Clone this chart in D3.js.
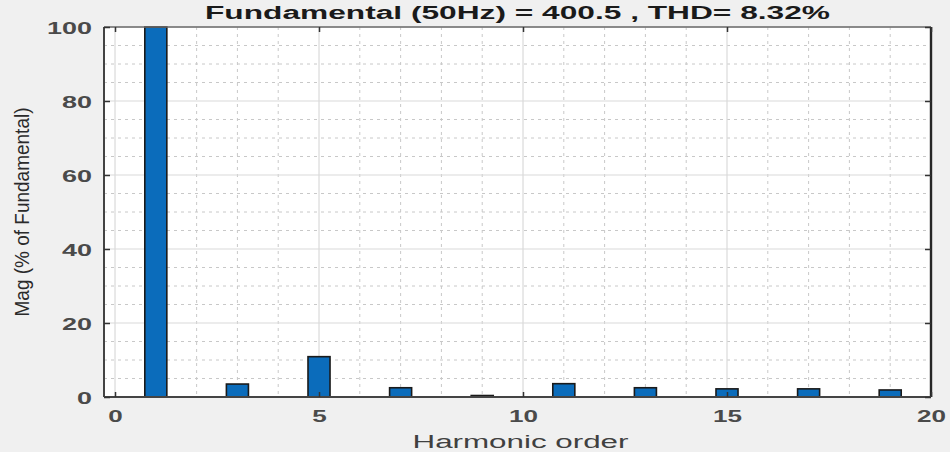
<!DOCTYPE html>
<html>
<head>
<meta charset="utf-8">
<script src="https://cdn.jsdelivr.net/npm/d3@7"></script>
<style>
  html, body { margin: 0; padding: 0; background: #f0f0f0; }
  svg { display: block; }
</style>
</head>
<body>
<svg id="chart" width="950" height="452"></svg>
<script>
// ---- data ----
const harmonicOrders = [1, 3, 5, 7, 9, 11, 13, 15, 17, 19];
const magnitudes = [100, 3.5, 10.9, 2.5, 0.4, 3.6, 2.5, 2.2, 2.2, 1.9];
const xTicks = [0, 5, 10, 15, 20];
const yTicks = [0, 20, 40, 60, 80, 100];
const titleText = "Fundamental (50Hz) = 400.5 , THD= 8.32%";
const xLabelText = "Harmonic order";
const yLabelText = "Mag (% of Fundamental)";

(function () {
// ---- layout ----
const W = 950, H = 452;
const pL = 104, pR = 931, pT = 27, pB = 397;
const svg = d3.select("#chart");

const x = d3.scaleLinear().domain([-0.27, 20]).range([pL, pR]);
const y = d3.scaleLinear().domain([0, 100]).range([pB, pT]);

svg.append("rect").attr("x", 0).attr("y", 0).attr("width", W).attr("height", H).attr("fill", "#f0f0f0");
svg.append("rect").attr("x", pL).attr("y", pT).attr("width", pR - pL).attr("height", pB - pT).attr("fill", "#ffffff");

// minor grid (dotted)
const g = svg.append("g");
const minorX = d3.range(0, 21, 1).filter(v => v % 5 !== 0);
const minorY = d3.range(0, 101, 5).filter(v => v % 20 !== 0);
g.selectAll("line.mx").data(minorX).join("line")
  .attr("x1", d => x(d)).attr("x2", d => x(d)).attr("y1", pT).attr("y2", pB)
  .attr("stroke", "#c8c8c8").attr("stroke-width", 1).attr("stroke-dasharray", "3,4");
g.selectAll("line.my").data(minorY).join("line")
  .attr("x1", pL).attr("x2", pR).attr("y1", d => y(d)).attr("y2", d => y(d))
  .attr("stroke", "#c8c8c8").attr("stroke-width", 1).attr("stroke-dasharray", "3,4");
// major grid
g.selectAll("line.gx").data(xTicks).join("line")
  .attr("x1", d => x(d)).attr("x2", d => x(d)).attr("y1", pT).attr("y2", pB)
  .attr("stroke", "#dadada").attr("stroke-width", 1.2);
g.selectAll("line.gy").data(yTicks).join("line")
  .attr("x1", pL).attr("x2", pR).attr("y1", d => y(d)).attr("y2", d => y(d))
  .attr("stroke", "#dadada").attr("stroke-width", 1.2);

// bars
const barW = x(0.54) - x(0);
svg.append("g").selectAll("rect").data(harmonicOrders).join("rect")
  .attr("x", d => x(d) - barW / 2)
  .attr("y", (d, i) => y(magnitudes[i]))
  .attr("width", barW)
  .attr("height", (d, i) => y(0) - y(magnitudes[i]))
  .attr("fill", "#0b6cbb")
  .attr("stroke", "#1a1a1a")
  .attr("stroke-width", 1.6);

// axes box
svg.append("line").attr("x1", pL).attr("x2", pR).attr("y1", pT).attr("y2", pT)
  .attr("stroke", "#6a6a6a").attr("stroke-width", 1.6);
svg.append("line").attr("x1", pR).attr("x2", pR).attr("y1", pT).attr("y2", pB)
  .attr("stroke", "#262626").attr("stroke-width", 2.4);
svg.append("line").attr("x1", pL).attr("x2", pR).attr("y1", pB).attr("y2", pB)
  .attr("stroke", "#444").attr("stroke-width", 2);
svg.append("line").attr("x1", pL).attr("x2", pL).attr("y1", pT).attr("y2", pB)
  .attr("stroke", "#444").attr("stroke-width", 2);

// axes with ticks (inward)
const xAxis = svg.append("g").attr("transform", `translate(0,${pB})`)
  .call(d3.axisBottom(x).tickValues(xTicks).tickSize(-5).tickPadding(0).tickFormat(d3.format("d")));
const xAxisTop = svg.append("g").attr("transform", `translate(0,${pT})`)
  .call(d3.axisTop(x).tickValues(xTicks).tickSize(-5).tickFormat(""));
const yAxis = svg.append("g").attr("transform", `translate(${pL},0)`)
  .call(d3.axisLeft(y).tickValues(yTicks).tickSize(-6).tickPadding(0).tickFormat(d3.format("d")));
const yAxisR = svg.append("g").attr("transform", `translate(${pR},0)`)
  .call(d3.axisRight(y).tickValues(yTicks).tickSize(-6).tickFormat(""));
[xAxis, xAxisTop, yAxis, yAxisR].forEach(a => {
  a.select(".domain").remove();
  a.selectAll(".tick line").attr("stroke", "#333").attr("stroke-width", 1.5);
});

const tickFont = "'Liberation Sans', Arial, sans-serif";
xAxis.selectAll(".tick text")
  .attr("y", 25).attr("dy", 0)
  .attr("font-family", tickFont).attr("font-size", 17).attr("font-weight", "bold")
  .attr("fill", "#4a4a4a")
  .attr("textLength", d => String(d).length * 14.5).attr("lengthAdjust", "spacingAndGlyphs");
yAxis.selectAll(".tick text")
  .attr("x", -12).attr("dy", "0.36em")
  .attr("font-family", tickFont).attr("font-size", 17).attr("font-weight", "bold")
  .attr("fill", "#4a4a4a")
  .attr("textLength", d => String(d).length * 15).attr("lengthAdjust", "spacingAndGlyphs");

// title
svg.append("text").attr("x", (pL + pR) / 2).attr("y", 18.5)
  .attr("text-anchor", "middle").attr("font-family", tickFont).attr("font-weight", "bold")
  .attr("font-size", 18).attr("fill", "#1a1a1a")
  .attr("textLength", 625).attr("lengthAdjust", "spacingAndGlyphs")
  .text(titleText);

// x label
svg.append("text").attr("x", (pL + pR) / 2 + 3).attr("y", 448)
  .attr("text-anchor", "middle").attr("font-family", tickFont)
  .attr("font-size", 18).attr("fill", "#404040")
  .attr("textLength", 216).attr("lengthAdjust", "spacingAndGlyphs")
  .text(xLabelText);

// y label (glyphs stretched across like the reference)
svg.append("text").attr("transform", `translate(29,212) rotate(-90) scale(1,1.4)`)
  .attr("text-anchor", "middle").attr("font-family", tickFont)
  .attr("font-size", 15).attr("fill", "#2a2a2a")
  .attr("textLength", 209).attr("lengthAdjust", "spacingAndGlyphs")
  .text(yLabelText);
})();
</script>
</body>
</html>
